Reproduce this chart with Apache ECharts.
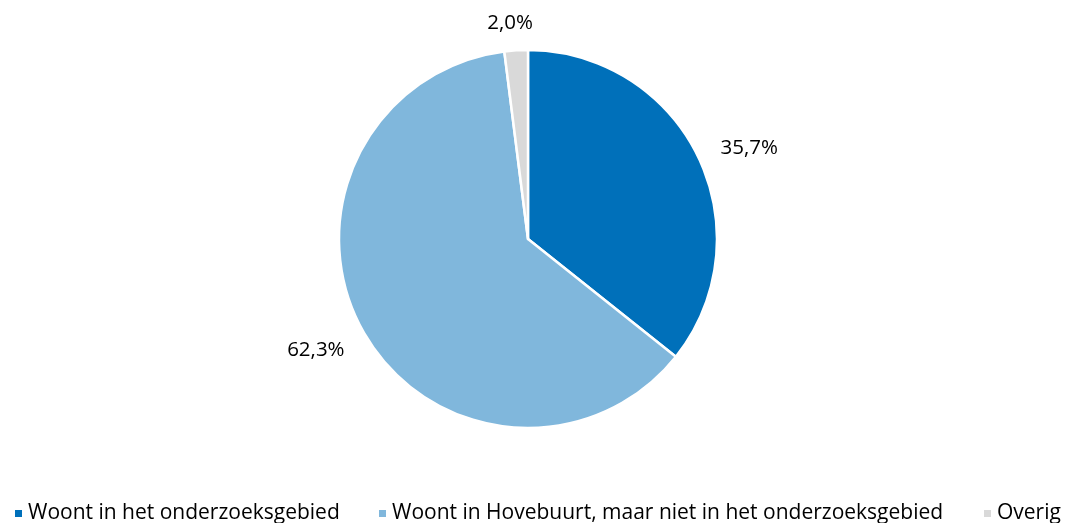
<!DOCTYPE html>
<html><head><meta charset="utf-8">
<script src="https://cdn.jsdelivr.net/npm/echarts@6/dist/echarts.min.js"></script>
<style>html,body{margin:0;padding:0;background:#fff}#c{width:1066px;height:523px}</style>
</head><body><div id="c"></div>
<script>
const categories = ['Woont in het onderzoeksgebied', 'Woont in Hovebuurt, maar niet in het onderzoeksgebied', 'Overig'];
const values = [35.7, 62.3, 2.0];
const colors = ['#0070BA', '#80B7DC', '#D9D9D9'];
const font = 'Open Sans';
const chart = echarts.init(document.getElementById('c'));
const legendLefts = [8, 372, 977];
const labelShift = [[-3, -1], [6, 10], [27, -9]];
chart.setOption({
  animation: false,
  color: colors,
  legend: categories.map((c, i) => ({
    data: [c], left: legendLefts[i], bottom: -6, icon: 'rect', itemWidth: 9, itemHeight: 9, itemGap: 6,
    textStyle: { fontFamily: font, fontSize: 21, color: '#000' }
  })),
  series: [{
    type: 'pie', center: [528, 239], radius: 189, startAngle: 90, clockwise: true,
    itemStyle: { borderColor: '#fff', borderWidth: 2.5 },
    label: { show: true, position: 'outside', fontFamily: font, fontSize: 20.5, color: '#000',
      formatter: p => p.value.toFixed(1).replace('.', ',') + '%' },
    labelLine: { show: false, length: 18, length2: 4 },
    labelLayout: p => ({ dx: labelShift[p.dataIndex][0], dy: labelShift[p.dataIndex][1] }),
    data: categories.map((c, i) => ({ name: c, value: values[i] }))
  }]
});
</script></body></html>
